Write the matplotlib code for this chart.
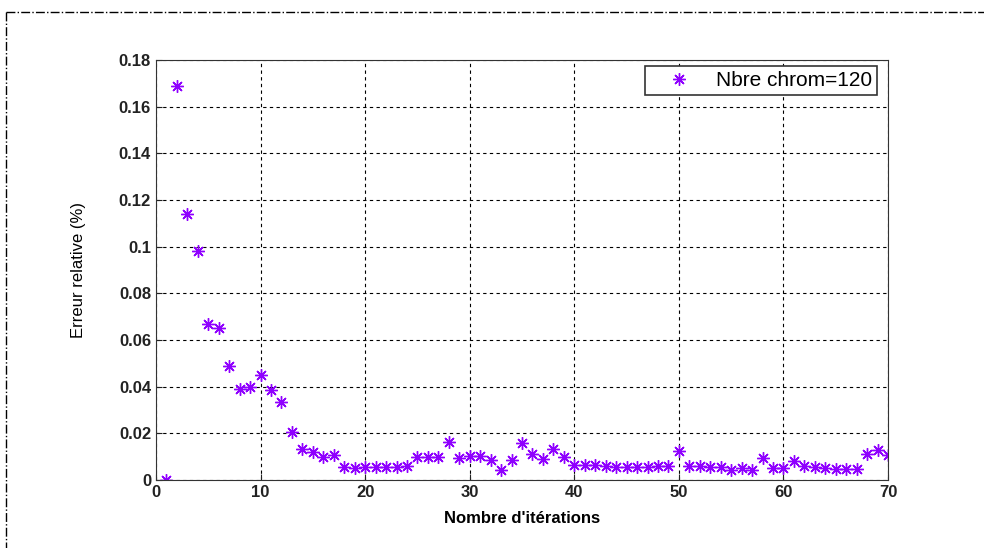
import matplotlib.pyplot as plt
from matplotlib.lines import Line2D
import numpy as np

plt.rcParams['font.family'] = ['Liberation Sans', 'DejaVu Sans']

# iterations and relative error
iterations = np.arange(1, 71)
erreur = [0.0, 0.169, 0.114, 0.098, 0.067, 0.065, 0.049, 0.039, 0.040, 0.045,
          0.0386, 0.0336, 0.0206, 0.0131, 0.012, 0.010, 0.0106, 0.0056, 0.005, 0.0056,
          0.0056, 0.0055, 0.0055, 0.0061, 0.0100, 0.0100, 0.0100, 0.0162, 0.0093, 0.0104,
          0.0101, 0.0087, 0.0045, 0.0087, 0.0158, 0.0113, 0.0092, 0.0134, 0.0099, 0.0065,
          0.0063, 0.0063, 0.0060, 0.0058, 0.0058, 0.0055, 0.0058, 0.0060, 0.0060, 0.0123,
          0.0059, 0.0059, 0.0054, 0.0054, 0.0045, 0.0050, 0.0045, 0.0094, 0.0050, 0.0050,
          0.0082, 0.0059, 0.0056, 0.0052, 0.0048, 0.0049, 0.0048, 0.0113, 0.0130, 0.0107]
xticks = [0, 10, 20, 30, 40, 50, 60, 70]
yticks = [0, 0.02, 0.04, 0.06, 0.08, 0.1, 0.12, 0.14, 0.16, 0.18]
ytick_labels = ['0', '0.02', '0.04', '0.06', '0.08', '0.1', '0.12', '0.14', '0.16', '0.18']

fig = plt.figure(figsize=(9.84, 5.48), dpi=100)
ax = fig.add_axes([0.1585, 0.124, 0.744, 0.7665])

ax.plot(iterations, erreur, linestyle='none', marker=(8, 2, 0), markersize=9,
        markeredgewidth=1.0, color='#8f00ff', label='Nbre chrom=120')

ax.set_xlim(0, 70)
ax.set_ylim(0, 0.18)
ax.set_xticks(xticks)
ax.set_yticks(yticks)
ax.set_yticklabels(ytick_labels)
ax.tick_params(direction='in', length=4, labelsize=12, colors='#222222')
for lab in ax.get_xticklabels() + ax.get_yticklabels():
    lab.set_fontweight('bold')
ax.grid(True, color='black', linestyle=(0, (3, 3)), linewidth=0.8)
for sp in ax.spines.values():
    sp.set_color('#333333')

ax.set_xlabel("Nombre d'itérations", fontsize=12, fontweight='bold', labelpad=8)
ax.set_ylabel('Erreur relative (%)', fontsize=12, labelpad=24)

leg = ax.legend(loc='upper right', fontsize=15, handlelength=2.8, handletextpad=0.35,
                fancybox=False, framealpha=1, edgecolor='#333333', borderpad=0.25,
                borderaxespad=0, bbox_to_anchor=(0.985, 0.986))
leg.get_frame().set_linewidth(1.2)

# dash-dot frame around the figure
fig.add_artist(Line2D([0.006, 1.0], [0.978, 0.978], transform=fig.transFigure,
                      color='black', linestyle='-.', linewidth=1))
fig.add_artist(Line2D([0.006, 0.006], [0.978, 0.0], transform=fig.transFigure,
                      color='black', linestyle='-.', linewidth=1))

fig.savefig('out.png', dpi=100)
